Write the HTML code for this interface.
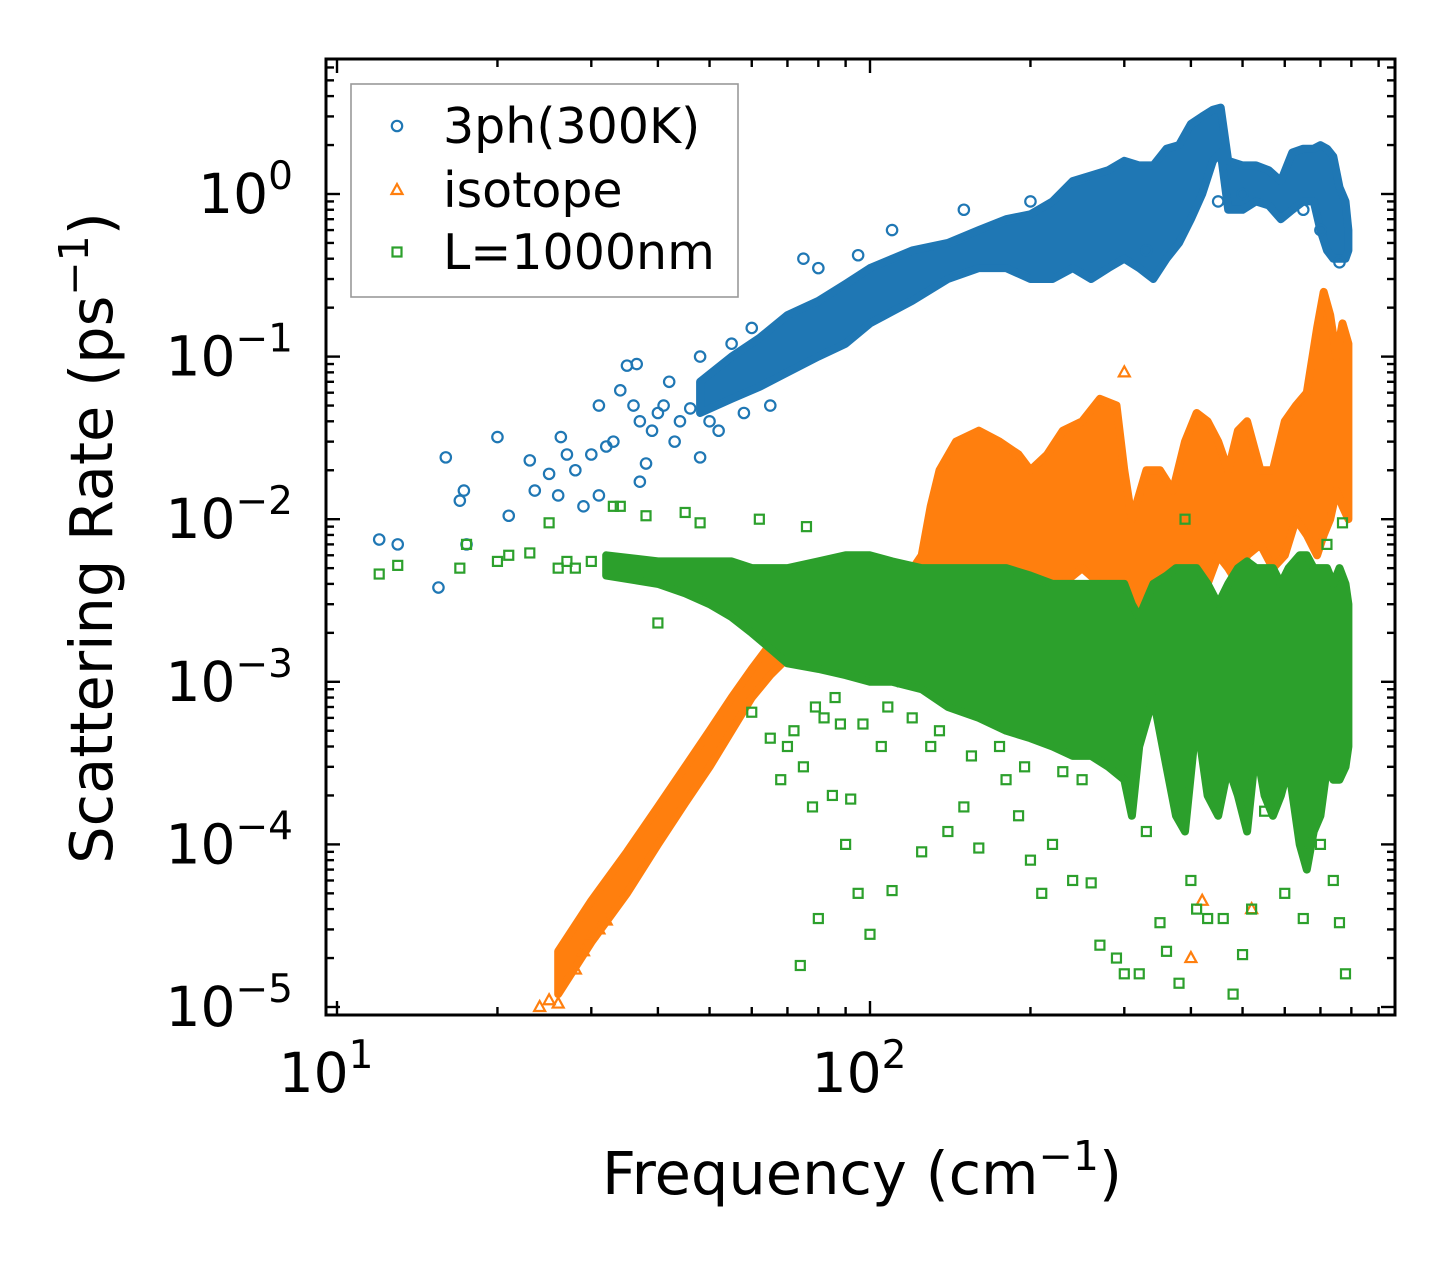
<!DOCTYPE html>
<html><head><meta charset="utf-8"><style>
html,body{margin:0;padding:0;background:#fff;}
svg{display:block;font-family:"DejaVu Sans","Liberation Sans",sans-serif;}
</style></head><body>
<svg id="chart" width="1455" height="1265" viewBox="0 0 1455 1265" xmlns="http://www.w3.org/2000/svg">
<g id="bands"></g>
<g id="points"></g>
<g id="axes"></g>
<g id="legend"></g>
</svg>
<script>
// ---- data ----
const blueBandFreq = [48,55,62,70,80,90,100,120,140,160,180,200,220,240,260,280,300,320,340,360,380,400,420,440,455,470,500,530,560,590,620,650,680,700,720,740,760,780,790];
const blueBandLow  = [0.045,0.055,0.065,0.08,0.1,0.12,0.16,0.22,0.3,0.35,0.35,0.3,0.3,0.35,0.3,0.35,0.4,0.35,0.3,0.4,0.5,0.7,1.0,1.6,1.8,0.8,0.8,0.9,0.85,0.7,0.8,0.9,0.9,0.6,0.45,0.4,0.4,0.4,0.45];
const blueBandHigh = [0.07,0.1,0.13,0.18,0.22,0.28,0.35,0.45,0.5,0.6,0.7,0.75,0.9,1.2,1.3,1.4,1.6,1.5,1.5,1.9,2.0,2.7,3.0,3.3,3.4,1.6,1.5,1.5,1.4,1.2,1.8,1.9,1.9,2.0,1.9,1.7,1.1,0.9,0.6];
const blueFreq = [12,13,15.5,16,17,17.3,17.5,20,21,23,23.5,25,26,26.3,27,28,29,30,31,31,32,33,34,35,36,36.5,37,37,38,39,40,41,42,43,44,46,48,48,50,52,55,58,60,65,75,80,95,110,150,200,330,450,500,650,700,760];
const blueRate = [0.0075,0.007,0.0038,0.024,0.013,0.015,0.007,0.032,0.0105,0.023,0.015,0.019,0.014,0.032,0.025,0.02,0.012,0.025,0.05,0.014,0.028,0.03,0.062,0.088,0.05,0.09,0.017,0.04,0.022,0.035,0.045,0.05,0.07,0.03,0.04,0.048,0.024,0.1,0.04,0.035,0.12,0.045,0.15,0.05,0.4,0.35,0.42,0.6,0.8,0.9,0.45,0.9,1.0,0.8,0.6,0.38];

const orangeBandFreq = [26,30,35,40,45,50,55,60,65,70,80,90,100,115,125,130,135,145,160,175,190,200,215,230,250,270,290,300,310,330,350,370,390,410,430,450,470,490,510,540,570,600,630,660,690,710,730,750,770,790];
const orangeBandLow  = [1.2e-5,2.5e-5,5e-5,1e-4,1.8e-4,3e-4,5e-4,8e-4,1.1e-3,1.4e-3,1.8e-3,2e-3,2e-3,2.2e-3,2.5e-3,4e-3,5e-3,4e-3,5e-3,5e-3,4e-3,3e-3,3e-3,4e-3,5e-3,4e-3,3e-3,1.5e-3,1e-3,3e-3,5e-3,4e-3,3e-3,2e-3,4e-3,6e-3,5e-3,4e-3,6e-3,7e-3,5e-3,6e-3,1e-2,8e-3,6e-3,8e-3,1e-2,1.5e-2,1.2e-2,1e-2];
const orangeBandHigh = [2.2e-5,4.5e-5,9e-5,1.7e-4,3e-4,5e-4,8e-4,1.2e-3,1.7e-3,2.2e-3,2.8e-3,3e-3,3.2e-3,4e-3,6e-3,1.2e-2,2e-2,3e-2,3.5e-2,3e-2,2.5e-2,2e-2,2.5e-2,3.5e-2,4e-2,5.5e-2,5e-2,2e-2,1e-2,2e-2,2e-2,1.5e-2,3e-2,4.5e-2,4e-2,3e-2,2e-2,3.5e-2,4e-2,2e-2,2e-2,4e-2,5e-2,6e-2,1.5e-1,2.5e-1,1.8e-1,1e-1,1.6e-1,1.2e-1];
const orangeFreq = [24,25,26,28,29,30,31,32,300,400,420,520];
const orangeRate = [1e-5,1.1e-5,1.05e-5,1.7e-5,2.2e-5,2.8e-5,3e-5,3.4e-5,0.08,2e-5,4.5e-5,4e-5];

const greenBandFreq = [32,40,45,50,55,60,65,70,80,90,100,110,125,140,160,180,200,220,240,260,280,300,310,320,340,360,375,390,410,430,450,470,490,510,530,550,570,590,610,640,660,680,700,720,740,760,780,790];
const greenBandLow  = [4.5e-3,4e-3,3.5e-3,3e-3,2.5e-3,2e-3,1.6e-3,1.3e-3,1.2e-3,1.1e-3,1e-3,1e-3,9e-4,7e-4,6e-4,5e-4,4.5e-4,4e-4,3.5e-4,3.5e-4,3e-4,2.5e-4,1.5e-4,4e-4,8e-4,3e-4,1.5e-4,1.2e-4,6e-4,2e-4,1.5e-4,3e-4,2e-4,1.2e-4,4e-4,2e-4,1.5e-4,2e-4,3e-4,1e-4,7e-5,1.2e-4,1.5e-4,3e-4,2.5e-4,2.5e-4,3e-4,4e-4];
const greenBandHigh = [6e-3,5.5e-3,5.5e-3,5.5e-3,5.5e-3,5e-3,5e-3,5e-3,5.5e-3,6e-3,6e-3,5.5e-3,5e-3,5e-3,5e-3,5e-3,4.5e-3,4e-3,4e-3,4e-3,4e-3,4e-3,3e-3,2.5e-3,4e-3,4.5e-3,5e-3,5e-3,5e-3,4e-3,3e-3,4e-3,5e-3,5.5e-3,5e-3,5e-3,5e-3,4e-3,5e-3,6e-3,6e-3,5e-3,5e-3,5e-3,4e-3,5e-3,4e-3,3e-3];
const greenFreq = [12,13,17,17.5,20,21,23,25,26,27,28,30,33,34,38,40,45,48,55,60,62,65,68,70,72,75,76,78,80,82,85,88,90,92,95,100,105,110,115,125,130,140,150,160,170,180,190,200,210,220,240,260,270,290,300,320,330,350,360,380,390,400,410,430,460,480,500,520,550,600,650,700,720,740,760,770,780,74,79,86,97,108,120,135,155,175,195,230,250];
const greenRate = [4.6e-3,5.2e-3,5e-3,7e-3,5.5e-3,6e-3,6.2e-3,9.5e-3,5e-3,5.5e-3,5e-3,5.5e-3,1.2e-2,1.2e-2,1.05e-2,2.3e-3,1.1e-2,9.5e-3,3.5e-3,6.5e-4,1e-2,4.5e-4,2.5e-4,4e-4,5e-4,3e-4,9e-3,1.7e-4,3.5e-5,6e-4,2e-4,5.5e-4,1e-4,1.9e-4,5e-5,2.8e-5,4e-4,5.2e-5,1e-3,9e-5,4e-4,1.2e-4,1.7e-4,9.5e-5,6e-4,2.5e-4,1.5e-4,8e-5,5e-5,1e-4,6e-5,5.8e-5,2.4e-5,2e-5,1.6e-5,1.6e-5,1.2e-4,3.3e-5,2.2e-5,1.4e-5,1e-2,6e-5,4e-5,3.5e-5,3.5e-5,1.2e-5,2.1e-5,4e-5,1.6e-4,5e-5,3.5e-5,1e-4,7e-3,6e-5,3.3e-5,9.5e-3,1.6e-5,1.8e-5,7e-4,8e-4,5.5e-4,7e-4,6e-4,5e-4,3.5e-4,4e-4,3e-4,2.8e-4,2.5e-4,2.2e-4];

const xTickValues = [10,100];
const xTickExps = ["1","2"];
const yTickValues = [1,0.1,0.01,0.001,1e-4,1e-5];
const yTickExps = ["0","\u22121","\u22122","\u22123","\u22124","\u22125"];

// ---- geometry ----
const L=326,R=1395,T=59,B=1015;
const X0=337, XD=533;
const Y0=194, YD=162.6;
function sx(v){return X0+(Math.log10(v)-1)*XD;}
function sy(v){return Y0-Math.log10(v)*YD;}
const NS="http://www.w3.org/2000/svg";
function mk(tag,attrs,parent){const e=document.createElementNS(NS,tag);for(const k in attrs)e.setAttribute(k,attrs[k]);parent.appendChild(e);return e;}
const COL={blue:"#1f77b4",orange:"#ff7f0e",green:"#2ca02c"};

const bandsG=document.getElementById('bands');
const ptsG=document.getElementById('points');
function band(freq,low,high,color,name,parent){
  let d="M"+freq.map((f,i)=>sx(f).toFixed(1)+","+sy(high[i]).toFixed(1)).join("L");
  for(let i=freq.length-1;i>=0;i--) d+="L"+sx(freq[i]).toFixed(1)+","+sy(low[i]).toFixed(1);
  d+="Z";
  const p=mk('path',{d:d,fill:color,stroke:color,'stroke-width':8,'stroke-linejoin':'round'},parent);
  
  
}
function marker(kind,x,y,color,parent){
  let e;
  if(kind==='o') e=mk('circle',{cx:x,cy:y,r:5.2,fill:'none',stroke:color,'stroke-width':2.2},parent);
  else if(kind==='^') e=mk('path',{d:`M${x},${y-6}L${x+5.5},${y+4}L${x-5.5},${y+4}Z`,fill:'none',stroke:color,'stroke-width':2.2},parent);
  else e=mk('rect',{x:x-4.5,y:y-4.5,width:9,height:9,fill:'none',stroke:color,'stroke-width':2.2},parent);
  return e;
}
const gBlue=mk('g',{},ptsG);  
const gOr=mk('g',{},ptsG);  
const gGr=mk('g',{},ptsG);  
band(blueBandFreq,blueBandLow,blueBandHigh,COL.blue,'band-3ph',gBlue);
blueFreq.forEach((f,i)=>{const m=marker('o',sx(f),sy(blueRate[i]),COL.blue,gBlue);
  
  });
band(orangeBandFreq,orangeBandLow,orangeBandHigh,COL.orange,'band-isotope',gOr);
orangeFreq.forEach((f,i)=>{const m=marker('^',sx(f),sy(orangeRate[i]),COL.orange,gOr);
  
  });
band(greenBandFreq,greenBandLow,greenBandHigh,COL.green,'band-l1000nm',gGr);
greenFreq.forEach((f,i)=>{const m=marker('s',sx(f),sy(greenRate[i]),COL.green,gGr);
  
  });

// ---- axes ----
const ax=document.getElementById('axes');
const frame=mk('rect',{x:L,y:T,width:R-L,height:B-T,fill:'none',stroke:'#000','stroke-width':3},ax);


function line(x1,y1,x2,y2,w){mk('line',{x1,y1,x2,y2,stroke:'#000','stroke-width':w},ax);}
for(let dec=0;dec<3;dec++){
  for(let m=1;m<10;m++){
    const val=m*Math.pow(10,dec);
    const x=sx(val);
    if(x<L+1||x>R-1) continue;
    const len=m===1?14:8;
    line(x,B,x,B-len,2.4); line(x,T,x,T+len,2.4);
  }
}
for(let e=-6;e<=0;e++){
  for(let m=1;m<10;m++){
    const v=m*Math.pow(10,e); const y=sy(v);
    if(y<T+1||y>B-1) continue;
    const len=m===1?14:8;
    line(L,y,L+len,y,2.4); line(R,y,R-len,y,2.4);
  }
}
xTickValues.forEach((v,i)=>{
  const t=mk('text',{x:sx(v)-11,y:1092,'font-size':55,'text-anchor':'middle',fill:'#000'},ax);
  t.textContent='10';
  const s=mk('tspan',{dy:-24,'font-size':39},t); s.textContent=xTickExps[i];
  
  
});
yTickValues.forEach((v,i)=>{
  const t=mk('text',{x:293,y:sy(v)+19,'font-size':55,'text-anchor':'end',fill:'#000'},ax);
  t.textContent='10';
  const s=mk('tspan',{dy:-24,'font-size':39},t); s.textContent=yTickExps[i];
  
  
});
const xt=mk('text',{x:862,y:1194,'font-size':59,'text-anchor':'middle',fill:'#000'},ax);
xt.textContent='Frequency (cm';
const xts=mk('tspan',{dy:-24,'font-size':41},xt); xts.textContent='\u22121';
const xtc=mk('tspan',{dy:24},xt); xtc.textContent=')';


const yt=mk('text',{x:0,y:0,'font-size':59,'text-anchor':'middle',fill:'#000',transform:'translate(112,538) rotate(-90)'},ax);
yt.textContent='Scattering Rate (ps';
const yts=mk('tspan',{dy:-24,'font-size':41},yt); yts.textContent='\u22121';
const ytc=mk('tspan',{dy:24},yt); ytc.textContent=')';



// ---- legend ----
const lg=document.getElementById('legend');
const box=mk('rect',{x:351,y:84,width:387,height:213,fill:'#fff','fill-opacity':0.8,stroke:'#999','stroke-width':1.6},lg);


const entries=[['o','3ph(300K)',COL.blue,126],['^','isotope',COL.orange,190],['s','L=1000nm',COL.green,252]];
entries.forEach(en=>{
  const g=mk('g',{},lg);
  
  
  marker(en[0],397,en[3],en[2],g);
  const t=mk('text',{x:443,y:en[3]+17,'font-size':49,fill:'#000'},g);
  t.textContent=en[1];
});
</script>
</body></html>
